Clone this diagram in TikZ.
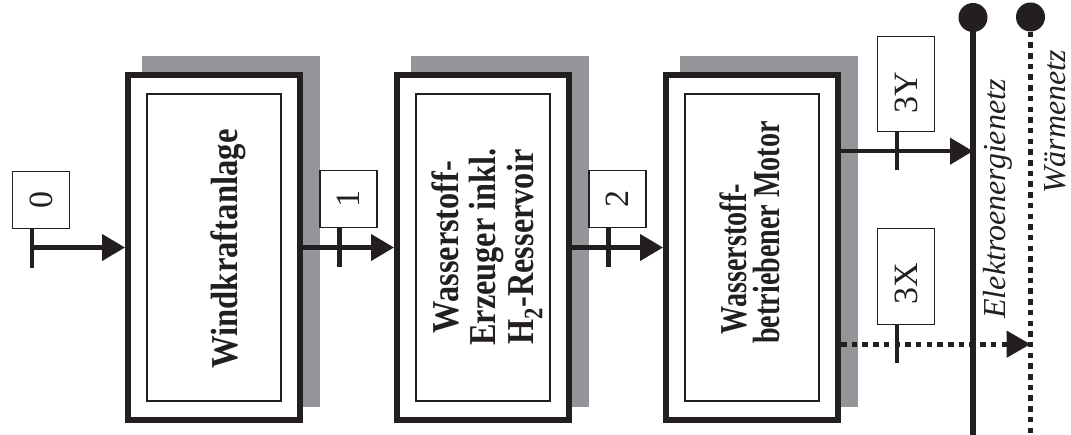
\documentclass[tikz,border=0pt]{standalone}
\usepackage{fontspec}
\setmainfont{Liberation Serif}
\usepackage{graphicx}
\usetikzlibrary{arrows.meta,backgrounds}
\definecolor{ink}{RGB}{35,31,32}
\definecolor{shadowgray}{RGB}{147,149,152}
\newcommand\blockfont{\fontsize{38}{37.5}\selectfont\bfseries}
\newcommand\blockfontb{\fontsize{38}{32}\selectfont\bfseries}
\newcommand\lblfont{\fontsize{34}{38}\selectfont}
\newcommand\netfont{\fontsize{32}{36}\selectfont\itshape}
\begin{document}
\begin{tikzpicture}[x=1pt,y=-1pt,line join=miter,
  outerbox/.style={draw=ink,line width=6pt,fill=white,minimum width=172pt,minimum height=345pt,inner sep=0pt},
  innerbox/.style={draw=ink,line width=1.6pt,minimum width=134.5pt,minimum height=307.5pt,inner sep=0pt},
  lbl/.style={draw=ink,line width=1.4pt,fill=white,minimum width=57pt,minimum height=57pt,inner sep=0pt,font=\lblfont,text=ink},
  stub/.style={draw=ink,line width=4.3pt},
  flow/.style={draw=ink,line width=4.3pt,-{Triangle[length=23pt,width=26pt]}},
  dotflow/.style={draw=ink,line width=5pt,dash pattern=on 5.5pt off 5.2pt,-{Triangle[length=24pt,width=26pt]}},
  bus/.style={draw=ink,line width=5.5pt},
  dotbus/.style={draw=ink,line width=5.5pt,dash pattern=on 5.5pt off 5.2pt},
  busdot/.style={circle,fill=ink,minimum size=29pt,inner sep=0pt},
  txt/.style={inner sep=0pt,text=ink}]
\useasboundingbox (0,0) rectangle (1071,435);

% blocks
\node[outerbox] (b1) at (214,247.5) {};
\node[outerbox] (b2) at (483,247.5) {};
\node[outerbox] (b3) at (752,247.5) {};
\node[innerbox] (i1) at (b1.center) {};
\node[innerbox] (i2) at (b2.center) {};
\node[innerbox] (i3) at (b3.center) {};
\begin{pgfonlayer}{background}
\foreach \bb in {b1,b2,b3}
  \fill[shadowgray] ([shift={(16.5pt,15.5pt)}]\bb.south west) rectangle ([shift={(16.5pt,15.5pt)}]\bb.north east);
\end{pgfonlayer}

% block texts
\node[txt,rotate=90,anchor=base,font=\blockfont] (t1) at (237,249)
  {\scalebox{0.86}[1]{Windkraftanlage}};
\node[txt,rotate=90,font=\blockfont] (t2) at (488,247)
  {\scalebox{0.85}[1]{\begin{tabular}{@{}c@{}}Wasserstoff-\\Erzeuger inkl.\\H\textsubscript{2}-Resservoir\end{tabular}}};
\node[txt,rotate=90,font=\blockfontb] (t3) at (754,232.5)
  {\scalebox{0.74}[1]{\begin{tabular}{@{}l@{}}\hspace*{13pt}Wasserstoff-\\[-3pt]betriebener Motor\end{tabular}}};

% labels
\node[lbl] (l0) at (41,200) {\rotatebox{90}{0}};
\node[lbl] (l1) at (348.5,199) {\rotatebox{90}{1}};
\node[lbl] (l2) at (617.5,199) {\rotatebox{90}{2}};
\node[lbl,minimum height=95pt] (l3y) at (906,84) {\rotatebox{90}{3Y\hspace*{18pt}}};
\node[lbl,minimum height=96pt] (l3x) at (906,276.5) {\rotatebox{90}{3X\hspace*{14pt}}};

% buses
\node[busdot] (e1) at (973,17.5) {};
\coordinate (e2) at (973,435);
\draw[bus] (e1.center) -- (e2);
\node[busdot] (w1) at (1030.5,17) {};
\coordinate (w2) at (1030.5,435);
\draw[dotbus] (w1.south) -- (w2);
\node[txt,rotate=90,anchor=base,font=\netfont] (ne) at (1005,199) {Elektroenergienetz};
\node[txt,rotate=90,anchor=base,font=\netfont] (nw) at (1065,122) {Wärmenetz};

% stubs
\coordinate (s0) at ([xshift=-9pt]l0.south);
\coordinate (s1) at ([xshift=-9pt]l1.south);
\coordinate (s2) at ([xshift=-9pt]l2.south);
\coordinate (s3y) at ([xshift=-9pt]l3y.south);
\coordinate (s3x) at ([xshift=-9pt]l3x.south);
\draw[stub] (s0) -- ++(0,39);
\draw[stub] (s1) -- ++(0,39);
\draw[stub] (s2) -- ++(0,39);
\draw[stub] (s3y) -- ++(0,38);
\draw[stub] (s3x) -- ++(0,38);
\coordinate (m3y) at ([yshift=-19pt]s3y);
\coordinate (m3x) at ([yshift=-19pt]s3x);

% flows
\draw[flow] (s0 |- b1.west) -- (b1.west);
\draw[flow] (b1.east) -- (b2.west);
\draw[flow] (b2.east) -- (b3.west);
\draw[flow] (b3.east |- m3y) -- (m3y -| e1);
\draw[dotflow] (b3.east |- m3x) -- (m3x -| w1);
\end{tikzpicture}
\end{document}
